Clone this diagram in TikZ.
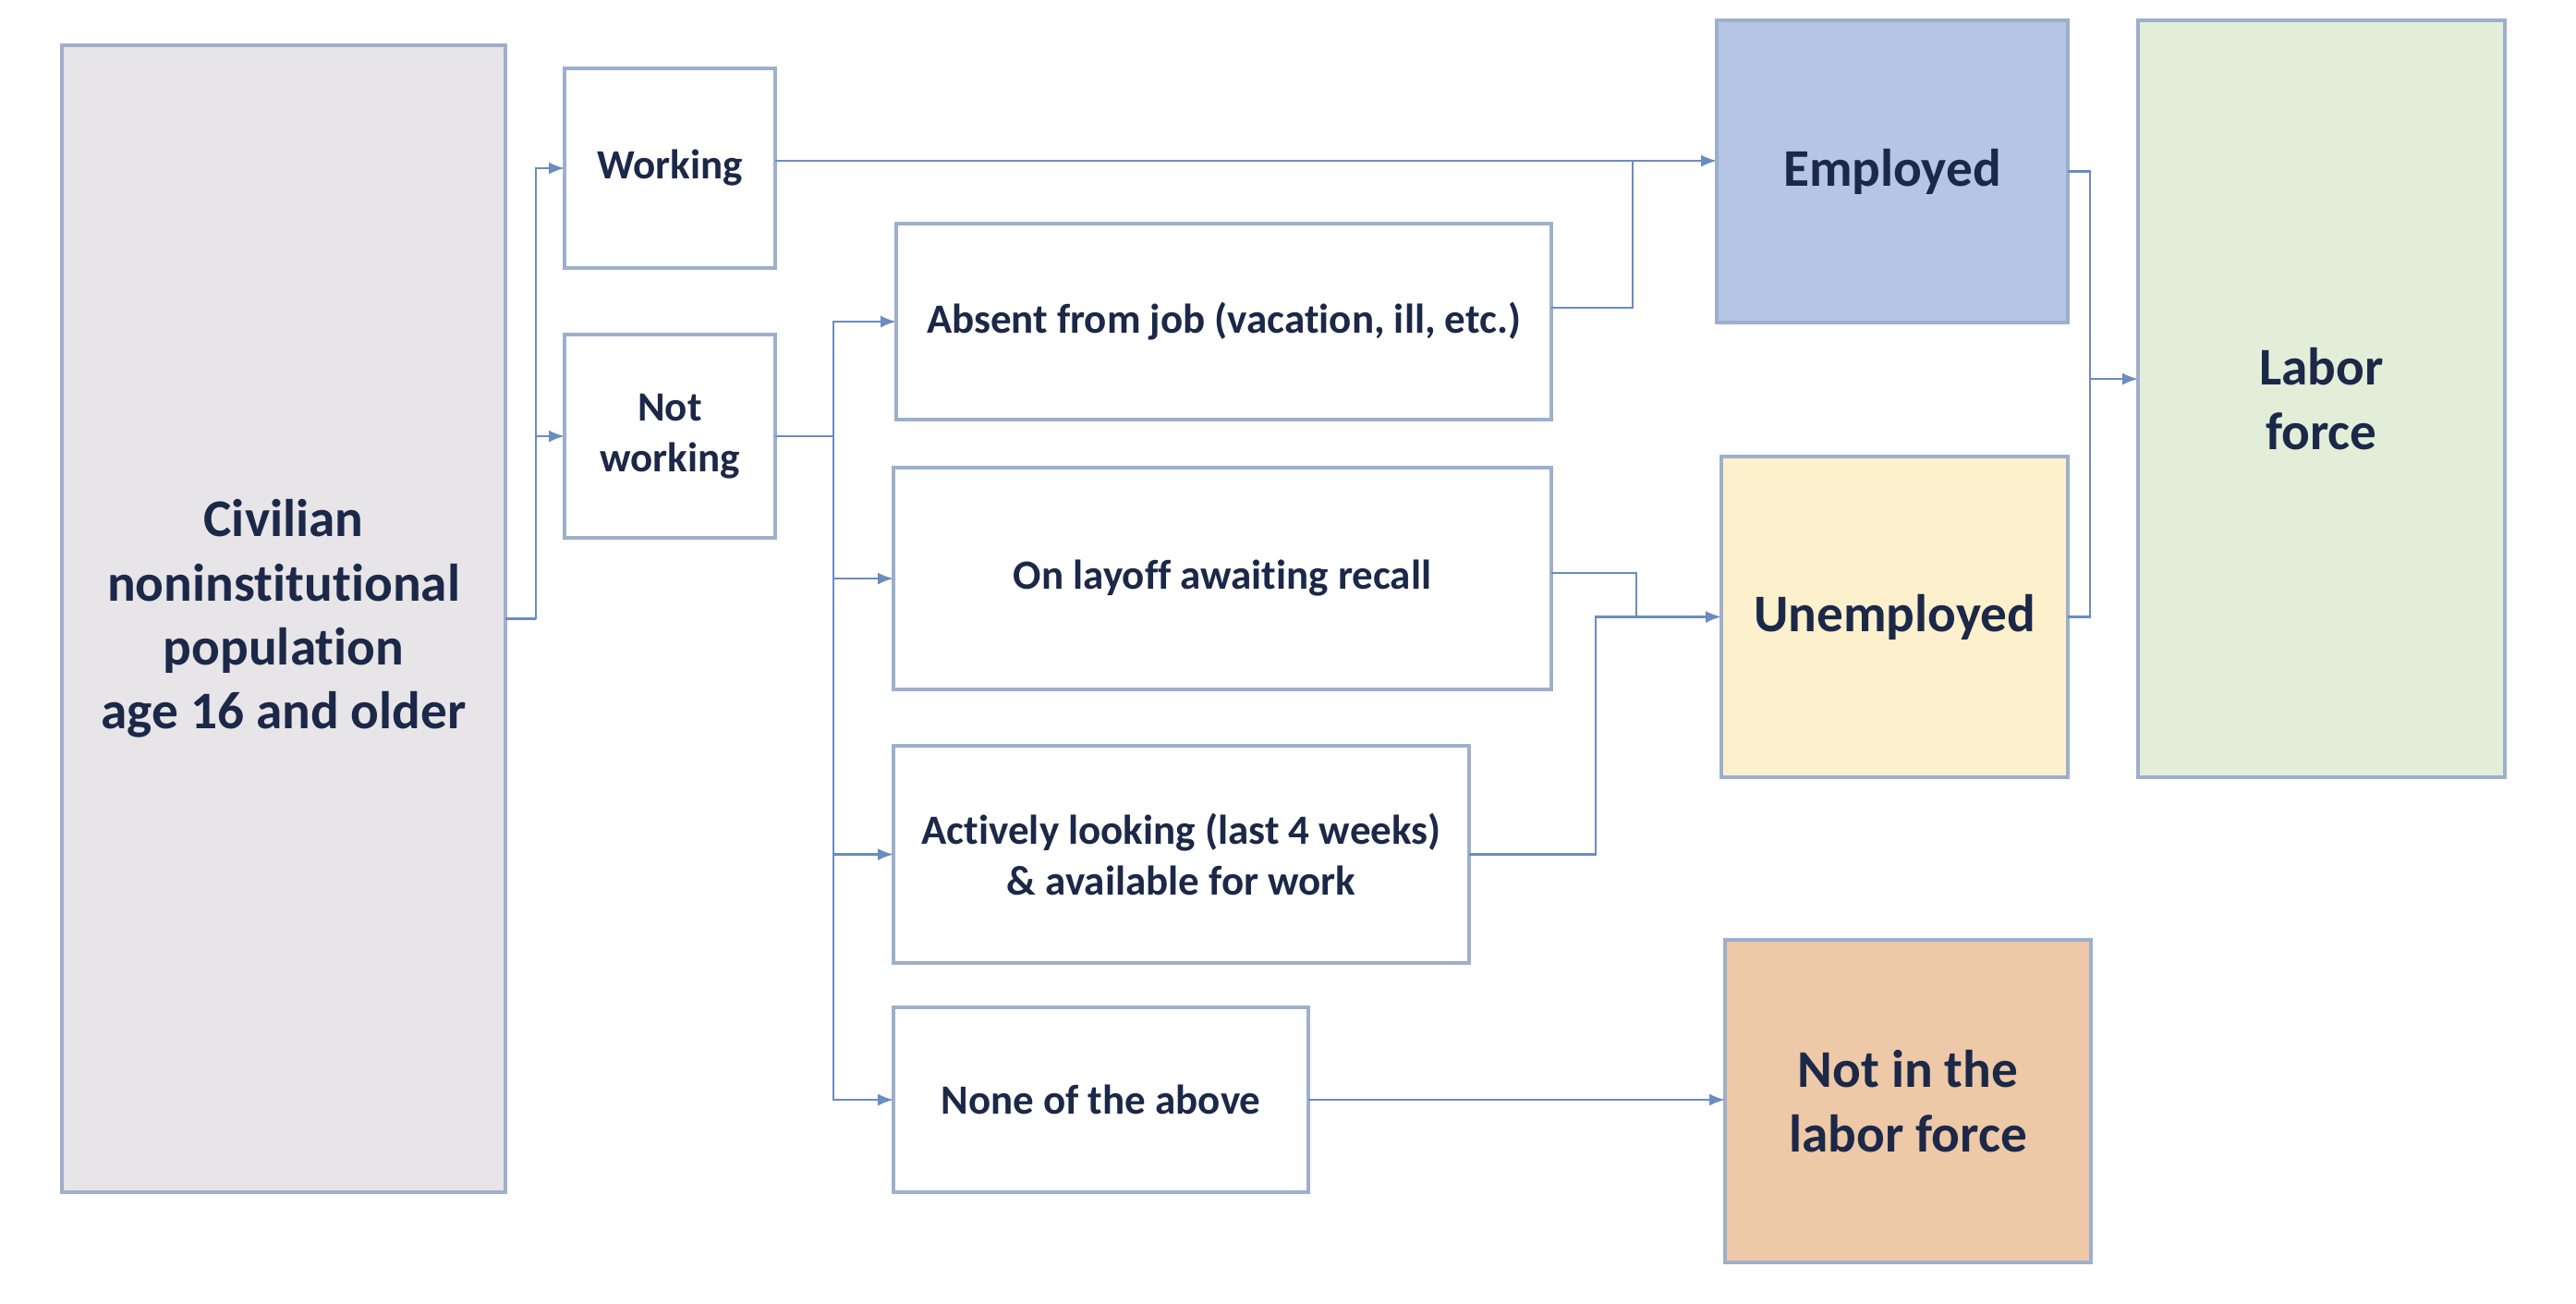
\documentclass[tikz,border=0pt]{standalone}
\usepackage{fontspec}
\setmainfont{Carlito}[Ligatures=NoCommon]
\usepackage{xcolor}
\usepackage{tikz}
\usepackage{tkz-euclide}
\usetikzlibrary{calc,arrows.meta}
\definecolor{ink}{HTML}{1C2848}
\definecolor{rim}{HTML}{9EAFCB}
\definecolor{wire}{HTML}{6A8CC0}
\definecolor{civfill}{HTML}{E7E5E8}
\definecolor{empfill}{HTML}{B4C5E5}
\definecolor{unfill}{HTML}{FCF0CD}
\definecolor{lffill}{HTML}{E3EED9}
\definecolor{nlffill}{HTML}{EDC9A8}
\tikzset{
	box/.style={draw=rim,line width=0.9pt,fill=white,inner sep=0pt,outer sep=0pt,align=center,text=ink,
		font=\bfseries\fontsize{12.8}{15.6}\selectfont},
	bigbox/.style={box,font=\bfseries\fontsize{16.3}{19.7}\selectfont},
	wirel/.style={draw=wire,line width=0.6pt},
	arr/.style={wirel,-{Latex[length=1.7mm,width=1.3mm]}}
}

\begin{document}
\begin{tikzpicture}
			\useasboundingbox (0,0) rectangle (27.88,-14.10);
			\node[bigbox,fill=civfill,minimum width=4.80cm,minimum height=12.41cm] (civ) at (3.07,-6.695) {Civilian\\noninstitutional\\population\\age 16 and older};
			\node[box,minimum width=2.28cm,minimum height=2.16cm] (work) at (7.25,-1.82) {Working};
			\node[box,minimum width=2.28cm,minimum height=2.20cm] (nwork) at (7.25,-4.72) {Not\\working};
			\node[box,minimum width=7.09cm,minimum height=2.12cm] (abs) at (13.245,-3.48) {Absent from job (vacation, ill, etc.)};
			\node[box,minimum width=7.12cm,minimum height=2.40cm] (lay) at (13.23,-6.26) {On layoff awaiting recall};
			\node[box,minimum width=6.23cm,minimum height=2.35cm] (act) at (12.785,-9.245) {Actively looking (last 4 weeks)\\\& available for work};
			\node[box,minimum width=4.49cm,minimum height=2.00cm] (none) at (11.915,-11.90) {None of the above};
			\node[bigbox,fill=empfill,minimum width=3.80cm,minimum height=3.27cm] (emp) at (20.48,-1.855) {Employed};
			\node[bigbox,fill=unfill,minimum width=3.75cm,minimum height=3.47cm] (unemp) at (20.505,-6.675) {Unemployed};
			\node[bigbox,fill=nlffill,minimum width=3.96cm,minimum height=3.49cm] (nlf) at (20.65,-11.915) {Not in the\\labor force};
			\node[bigbox,fill=lffill,minimum width=3.97cm,minimum height=8.19cm] (lf) at (25.125,-4.315) {Labor\\force};
			\tkzDefPoint(5.80,-6.695){c}
			\tkzDefPoint(9.02,-4.72){n}
			\tkzDefPoint(17.67,-1.74){e}
			\tkzDefPoint(17.71,-6.675){ub}
			\tkzDefPoint(17.27,-6.675){ua}
			\tkzDefPoint(22.62,-4.10){l}
			\draw[wirel] (civ.east) -- (c);
			\draw[arr] (c) |- (work.west);
			\draw[arr] (c) |- (nwork.west);
			\draw[wirel] (nwork.east) -- (n);
			\foreach \b in {abs,lay,act,none}
				\draw[arr] (n) |- (\b.west);
			\draw[arr] (work.east |- e) -- (emp.west |- e);
			\draw[wirel] ([yshift=1.5mm]abs.east) -| (e);
			\draw[wirel] ([yshift=0.6mm]lay.east) -| (ub);
			\draw[arr] (act.east) -| (ua) -- (unemp.west |- ua);
			\draw[arr] (none.east) -- (nlf.west |- none.east);
			\draw[wirel] (emp.east) -| (l) |- (unemp.east);
			\draw[arr] (l) -- (lf.west |- l);
		\end{tikzpicture}
\end{document}
